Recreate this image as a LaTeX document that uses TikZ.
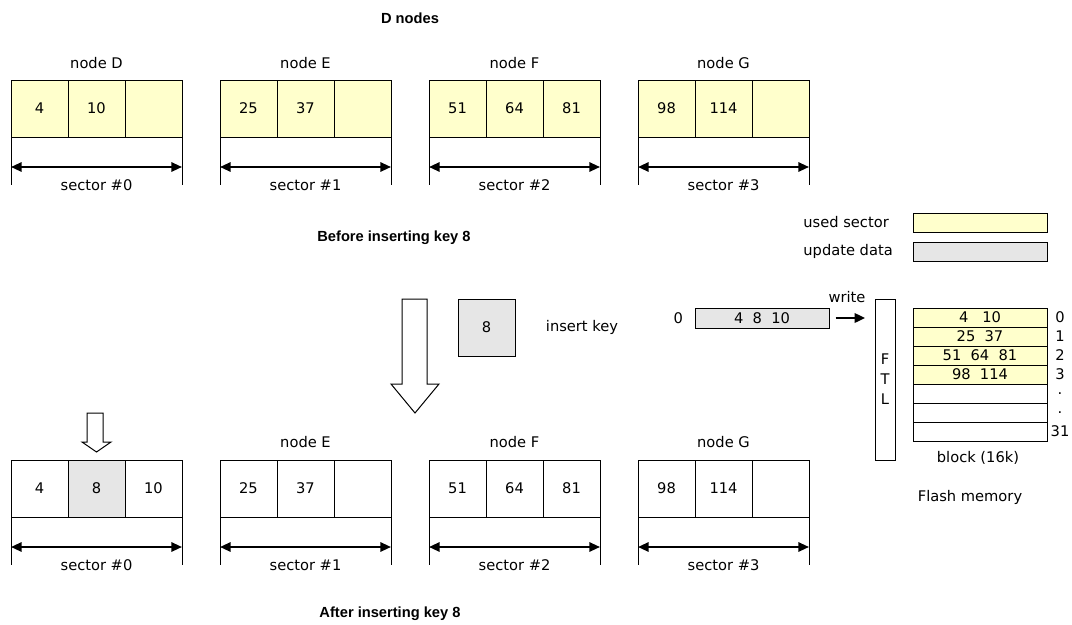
\documentclass[tikz,border=0pt]{standalone}
\usepackage{fontspec}
\setmainfont{DejaVu Sans}
\newfontfamily\titlefont{Liberation Sans}
\usetikzlibrary{arrows.meta}
\usetikzlibrary{calc,positioning}
\definecolor{usedcol}{RGB}{255,255,204}
\definecolor{updcol}{RGB}{230,230,230}

\begin{document}
\begin{tikzpicture}[x=0.75pt,y=-0.75pt,>={Triangle[length=8pt,width=7pt]},line width=0.75pt,node distance=0pt,
  cell/.style={draw, minimum width=42.75pt, minimum height=42.75pt, inner sep=0pt, outer sep=0pt},
  used/.style={cell, fill=usedcol},
  blank/.style={cell, fill=white},
  blockrow/.style={draw, minimum width=100.5pt, minimum height=14.25pt, inner sep=0pt, outer sep=0pt},
  sect/.style={<->, line width=1.5pt},
  headline/.style={font=\titlefont\bfseries\fontsize{11}{13}\selectfont},
  hollow/.style={draw, fill=white}]
  \fontsize{11}{13}\selectfont

\useasboundingbox (0,0) rectangle (1072,625);

% titles
\node[headline] (tD) at (410,18) {D nodes};
\node[headline] (tbefore) at (394,238) {Before inserting key 8};
\node[headline] (tafter) at (390,614) {After inserting key 8};

% D nodes before the insert
\foreach \i/\x/\a/\b/\c/\n in {0/11/4/10//D, 1/220/25/37//E, 2/429/51/64/81/F, 3/638/98/114//G}{
  \node[used, anchor=north west] (ta\i) at (\x,80) {\a};
  \node[used, right=of ta\i] (tb\i) {\b};
  \node[used, right=of tb\i] (tc\i) {\c};
  \node (tn\i) at ($(tb\i.north)+(0,-17)$) {node \n};
}

% D nodes after the insert
\node[blank, anchor=north west] (ba0) at (11,460) {4};
\node[cell, fill=updcol, right=of ba0] (bb0) {8};
\node[blank, right=of bb0] (bc0) {10};
\foreach \i/\x/\a/\b/\c/\n in {1/220/25/37//E, 2/429/51/64/81/F, 3/638/98/114//G}{
  \node[blank, anchor=north west] (ba\i) at (\x,460) {\a};
  \node[blank, right=of ba\i] (bb\i) {\b};
  \node[blank, right=of bb\i] (bc\i) {\c};
  \node (bn\i) at ($(bb\i.north)+(0,-18)$) {node \n};
}

% sectors
\foreach \r in {t,b}
  \foreach \i in {0,...,3}{
    \coordinate (\r l\i) at ($(\r a\i.south west)+(0,48)$);
    \coordinate (\r r\i) at ($(\r c\i.south east)+(0,48)$);
    \coordinate (\r al\i) at ($(\r a\i.south west)+(0,30)$);
    \coordinate (\r ar\i) at ($(\r c\i.south east)+(0,30)$);
    \draw (\r a\i.south west) -- (\r l\i);
    \draw (\r c\i.south east) -- (\r r\i);
    \draw[sect] (\r al\i) -- (\r ar\i);
    \node (\r s\i) at ($(\r l\i)!.5!(\r r\i)$) {sector \#\i};
  }

% insert key 8
\node[cell, fill=updcol] (key) at (486.5,327.5) {8};
\node (inskey) at (582,327) {insert key};
\draw[hollow] ($(key.north west)+(-56,0)$) -- ++(25,0) -- ++(0,85) -- ++(12,0)
  -- ++(-24,29) -- ++(-24,-29) -- ++(11,0) -- cycle;
\draw[hollow] (bb0.north) ++(-9.5,-47) -- ++(16,0) -- ++(0,29) -- ++(8,0)
  -- ++(-14.5,10) -- ++(-14.5,-10) -- ++(5,0) -- cycle;

% legend
\node[anchor=west] (tused) at (798,222.5) {used sector};
\node[anchor=west] (tupd) at (798,251.5) {update data};
\node[blockrow, fill=usedcol] (lused) at (980,222.5) {};
\node[blockrow, fill=updcol] (lupd) at (980,251.5) {};

% flash memory
\node[blockrow, fill=updcol, minimum height=15pt] (upd) at (762,318) {4\ \ 8\ \ 10};
\node[left=5pt of upd] (uzero) {0};
\node[draw, fill=white, minimum width=15pt, minimum height=120.75pt, inner sep=0pt,
  align=center, font=\fontsize{11}{15}\selectfont] (ftl) at (885,379.5) {F\\T\\L};
\draw[->, line width=2pt] ([xshift=5pt]upd.east) -- ([xshift=-7pt]upd.east -| ftl.west);
\node (wr) at (847,297) {write};

\node[blockrow, fill=usedcol] (r0) at (980,317.5) {4\ \ \ 10};
\node[blockrow, fill=usedcol, below=of r0] (r1) {25\ \ 37};
\node[blockrow, fill=usedcol, below=of r1] (r2) {51\ \ 64\ \ 81};
\node[blockrow, fill=usedcol, below=of r2] (r3) {98\ \ 114};
\node[blockrow, fill=white, below=of r3] (r4) {};
\node[blockrow, fill=white, below=of r4] (r5) {};
\node[blockrow, fill=white, below=of r5] (r6) {};
\foreach \k/\l in {0/0, 1/1, 2/2, 3/3, 4/., 5/., 6/31}
  \node (n\k) at ($(r\k.east)+(13,0)$) {\l};
\node (blk) at ($(r6.south)+(-2,17)$) {block (16k)};
\node (flash) at ($(r6.south)+(-10,56)$) {Flash memory};

\end{tikzpicture}
\end{document}
